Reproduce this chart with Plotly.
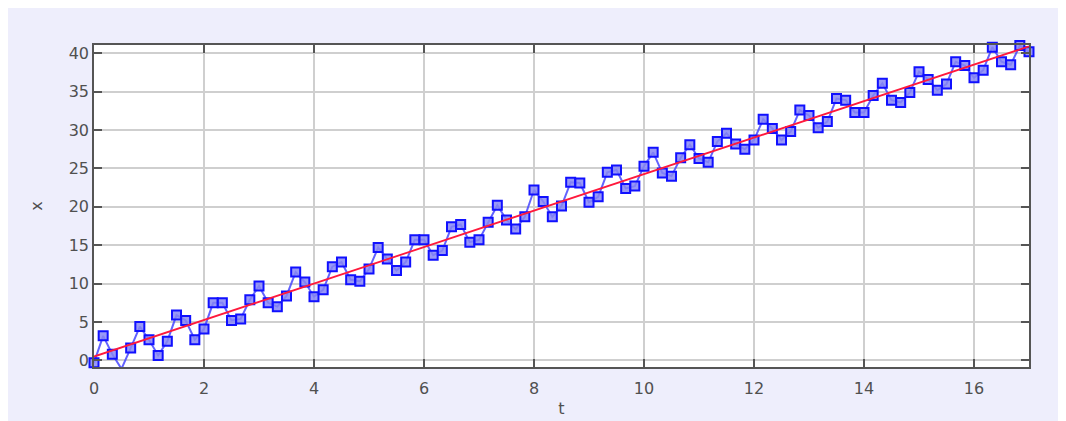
import plotly.graph_objects as go

# time samples: 103 points from 0 to 17 (step 1/6)
n_points = 103
t_end = 17.0
t = [i * t_end / (n_points - 1) for i in range(n_points)]

x_values = [
    -0.3, 3.2, 0.8, -1.1, 1.6, 4.4, 2.7, 0.65, 2.5, 5.9,
    5.2, 2.7, 4.1, 7.5, 7.5, 5.2, 5.4, 7.9, 9.7, 7.5,
    7.0, 8.4, 11.5, 10.2, 8.3, 9.2, 12.2, 12.8, 10.5, 10.3,
    11.9, 14.7, 13.2, 11.7, 12.8, 15.7, 15.7, 13.7, 14.3, 17.4,
    17.7, 15.4, 15.7, 18.0, 20.2, 18.3, 17.1, 18.7, 22.2, 20.7,
    18.7, 20.1, 23.2, 23.1, 20.6, 21.3, 24.5, 24.8, 22.4, 22.7,
    25.3, 27.1, 24.4, 24.0, 26.4, 28.1, 26.3, 25.8, 28.5, 29.6,
    28.2, 27.5, 28.7, 31.4, 30.2, 28.7, 29.8, 32.6, 31.9, 30.3,
    31.1, 34.1, 33.9, 32.3, 32.3, 34.5, 36.1, 33.9, 33.6, 34.9,
    37.6, 36.6, 35.2, 36.0, 38.9, 38.4, 36.8, 37.8, 40.8, 38.9,
    38.5, 41.0, 40.2,
]

trend_t = [0.0, 17.0]
trend_x = [0.5, 40.9]

x_ticks = [0, 2, 4, 6, 8, 10, 12, 14, 16]
y_ticks = [0, 5, 10, 15, 20, 25, 30, 35, 40]

fig = go.Figure()

fig.add_trace(go.Scatter(
    x=t, y=x_values, mode="lines+markers",
    line=dict(color="rgba(70,70,255,0.85)", width=2),
    marker=dict(symbol="square", size=9, color="rgba(135,135,245,0.85)",
                line=dict(color="#1010ff", width=2)),
    cliponaxis=False, showlegend=False,
))

fig.add_trace(go.Scatter(
    x=trend_t, y=trend_x, mode="lines",
    line=dict(color="rgb(255,25,60)", width=1.8),
    showlegend=False,
))

font = dict(family="DejaVu Sans", size=16, color="#505050")

axis_common = dict(
    showline=True, linecolor="#555555", linewidth=1.5, mirror="allticks",
    ticks="inside", ticklen=8, tickwidth=1.5, tickcolor="#555555",
    showgrid=True, gridcolor="#cfcfcf", gridwidth=1.5,
    zeroline=False, tickfont=font,
)

fig.update_xaxes(range=[0, 17], tickvals=x_ticks, ticklabelstandoff=6,
                 title=dict(text="t", font=font, standoff=6), **axis_common)
fig.update_yaxes(range=[-0.86, 41.08], tickvals=y_ticks,
                 title=dict(text="x", font=font, standoff=22), **axis_common)

fig.update_layout(
    width=1052, height=421,
    margin=dict(l=86, r=31, t=37, b=62, autoexpand=False),
    paper_bgcolor="#eeeefc", plot_bgcolor="white",
    font=font,
)

fig.write_html("out.html")
